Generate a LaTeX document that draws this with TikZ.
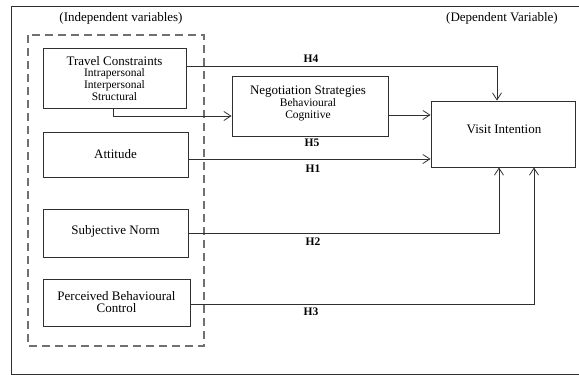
\documentclass[tikz,border=0pt]{standalone}
\usepackage{fontspec}
\setmainfont{Liberation Serif}
\usetikzlibrary{arrows.meta}
\definecolor{linec}{HTML}{303030}
\definecolor{dashc}{HTML}{707070}
\tikzset{
  box/.style={draw=linec, line width=0.85pt, fill=white, inner sep=0pt, align=center, font=\fontsize{13}{14}\selectfont},
  conn/.style={draw=linec, line width=0.8pt},
  arr/.style={conn, -{Straight Barb[length=7pt,width=9pt,line width=0.8pt]}},
  hlab/.style={font=\fontsize{11.5}{12}\selectfont\bfseries, inner sep=0pt},
  side/.style={font=\fontsize{13}{14}\selectfont, inner sep=0pt},
  subt/.style={font=\fontsize{11.5}{12}\selectfont}
}
\begin{document}
\begin{tikzpicture}[x=1pt,y=-1pt]
\useasboundingbox (0,0) rectangle (579,375);
% outer frame (right side lies outside the picture)
\draw[draw=linec, line width=0.9pt] (579,6) -- (11,6) -- (11,374) -- (579,374);
% dashed group
\draw[draw=dashc, line width=1.4pt, dash pattern=on 8pt off 5pt] (28,35) rectangle (204,346);
\node[side] (iv) at (121,18) {(Independent variables)};
\node[side] (dv) at (502,18) {(Dependent Variable)};
% boxes
\node[box, minimum width=143pt, minimum height=60pt] (T) at (114.5,78) {};
\node[align=center, inner sep=0pt] (Tt) at (114.5,79) {\fontsize{13}{12}\selectfont Travel Constraints\\[-1pt]
  {\fontsize{11.5}{12}\selectfont Intrapersonal}\\ {\fontsize{11.5}{12}\selectfont Interpersonal}\\ {\fontsize{11.5}{12}\selectfont Structural}};
\node[box, minimum width=145pt, minimum height=45pt] (A) at (115.5,154.5) {Attitude};
\node[box, minimum width=145pt, minimum height=48pt] (S) at (115.5,233) {};
\node[side] (St) at (115.5,231) {Subjective Norm};
\node[box, minimum width=147pt, minimum height=47pt] (P) at (116.5,302.5) {};
\node[align=center, inner sep=0pt] (Pt) at (116.5,302) {\fontsize{13}{12}\selectfont Perceived Behavioural\\ \fontsize{13}{12}\selectfont Control};
\node[box, minimum width=156pt, minimum height=60pt] (N) at (310,106) {};
\node[align=center, inner sep=0pt] (Nt) at (308,103) {\fontsize{13}{12}\selectfont Negotiation Strategies\\
  {\fontsize{11.5}{12}\selectfont Behavioural}\\ {\fontsize{11.5}{12}\selectfont Cognitive}};
\node[box, minimum width=144pt, minimum height=66pt] (V) at (503,134) {};
\node[side] (Vt) at (504,129) {Visit Intention};
% helper coordinates
\coordinate (y66) at (0,66);
\coordinate (x497) at (497,0);
\coordinate (x113) at (113,0);
\coordinate (y116) at (0,116);
\coordinate (y115) at (0,115);
\coordinate (y159) at (0,159);
\coordinate (y233) at (0,233);
\coordinate (x499) at (499,0);
\coordinate (y304) at (0,304);
\coordinate (x534) at (534,0);
% connectors
\draw[arr] (T.east |- y66) -| (V.north -| x497);
\draw[arr] (T.south -| x113) |- (N.west |- y116);
\draw[arr] (N.east |- y115) -- (V.west |- y115);
\draw[arr] (A.east |- y159) -- (V.west |- y159);
\draw[arr] (S.east |- y233) -| (V.south -| x499);
\draw[arr] (P.east |- y304) -| (V.south -| x534);
% labels
\node[hlab] (h4) at (311,59) {H4};
\node[hlab] (h5) at (312,143) {H5};
\node[hlab] (h1) at (313,169) {H1};
\node[hlab] (h2) at (313,242) {H2};
\node[hlab] (h3) at (311,312) {H3};
\end{tikzpicture}
\end{document}
